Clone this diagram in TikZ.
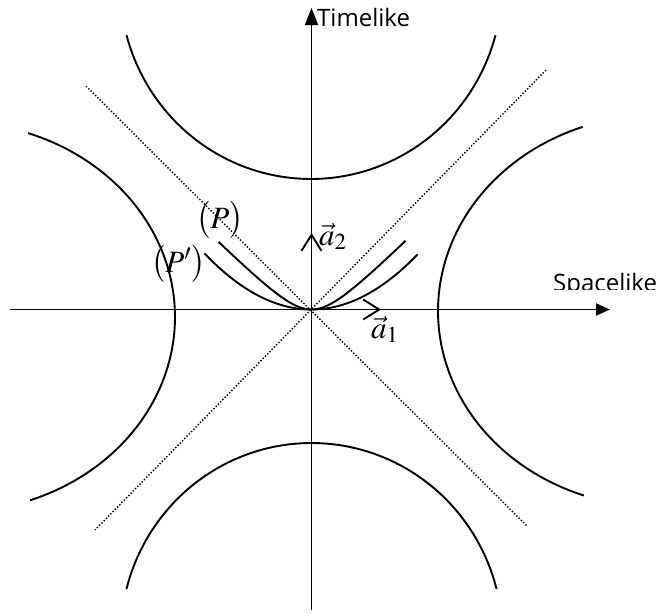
\documentclass[tikz,border=0pt]{standalone}
\usepackage{mathptmx}
\usepackage[no-math]{fontspec}
\newfontfamily\labelfont{Open Sans}
\usetikzlibrary{arrows.meta}
\tikzset{
  curve/.style={line width=1.9pt, line join=round},
  axisline/.style={line width=1.9pt},
  cone/.style={line width=1.4pt, dash pattern=on 1.4pt off 1.8pt},
  vecbarb/.style={line width=1.9pt, -{Straight Barb[length=16pt,width=20pt]}},
  axislabel/.style={inner sep=0pt, anchor=base west, font=\labelfont\fontsize{24}{28}\selectfont},
  mathlabel/.style={inner sep=0pt, anchor=base west, font=\fontsize{31}{37}\selectfont}
}
\begin{document}
\begin{tikzpicture}[x=1pt,y=-1pt]
\useasboundingbox (0,0) rectangle (665,616);
% key points
\coordinate (O) at (311.5,309.5);
\coordinate (xl) at (10,309.5);
\coordinate (xr) at (610,309.5);
\coordinate (yb) at (311.5,610);
\coordinate (yt) at (311.5,8);
\coordinate (c1) at (86,86);
\coordinate (c2) at (527,526);
\coordinate (c3) at (546,70);
\coordinate (c4) at (95,530);
\coordinate (a1tip) at (381,309.5);
\coordinate (a2tip) at (311.5,233);
% light cone
\draw[cone] (c1) -- (c2);
\draw[cone] (c3) -- (c4);
% axes
\draw[axisline, -{Triangle[length=14pt,width=12pt]}] (xl) -- (xr);
\draw[axisline, -{Triangle[length=17pt,width=13pt]}] (yb) -- (yt);
% the four outer curves
\draw[curve] plot[domain=-70.6:70.05, samples=80] ({-45+220*cos(\x)},{317+195*sin(\x)});
\draw[curve] plot[domain=-70:70.3, samples=80] ({658-220*cos(\x)},{311+196*sin(\x)});
\draw[curve] plot[domain=-75:75, samples=80] ({311+191*sin(\x)},{-15+194*cos(\x)});
\draw[curve] plot[domain=-75.7:75.7, samples=80] ({311.5+191*sin(\x)},{637-194*cos(\x)});
% small curves P and P'
\draw[curve] plot[domain=-93:94, samples=60] ({311.5+\x},{309.5-(sqrt(30*30+\x*\x)-30)});
\draw[curve] plot[domain=-107:106, samples=60] ({311.5+\x},{309.5-0.0049*\x*\x});
% vectors
\draw[vecbarb] (O) -- (a1tip);
\draw[vecbarb] (O) -- (a2tip);
% labels
\node[axislabel] (tl) at (317,26) {Timelike};
\begin{scope}
\clip (540,250) rectangle (665,289.5);
\node[axislabel] (sl) at (553,291) {Spacelike};
\end{scope}
\node[mathlabel] (la2) at (319,245) {$\vec{a}_2$};
\node[mathlabel] (la1) at (371,338) {$\vec{a}_1$};
\node[mathlabel] (lp) at (196,228) {$\bigl(P\bigr)$};
\node[mathlabel] (lpp) at (151,272) {$\bigl(P'\bigr)$};
\end{tikzpicture}
\end{document}
